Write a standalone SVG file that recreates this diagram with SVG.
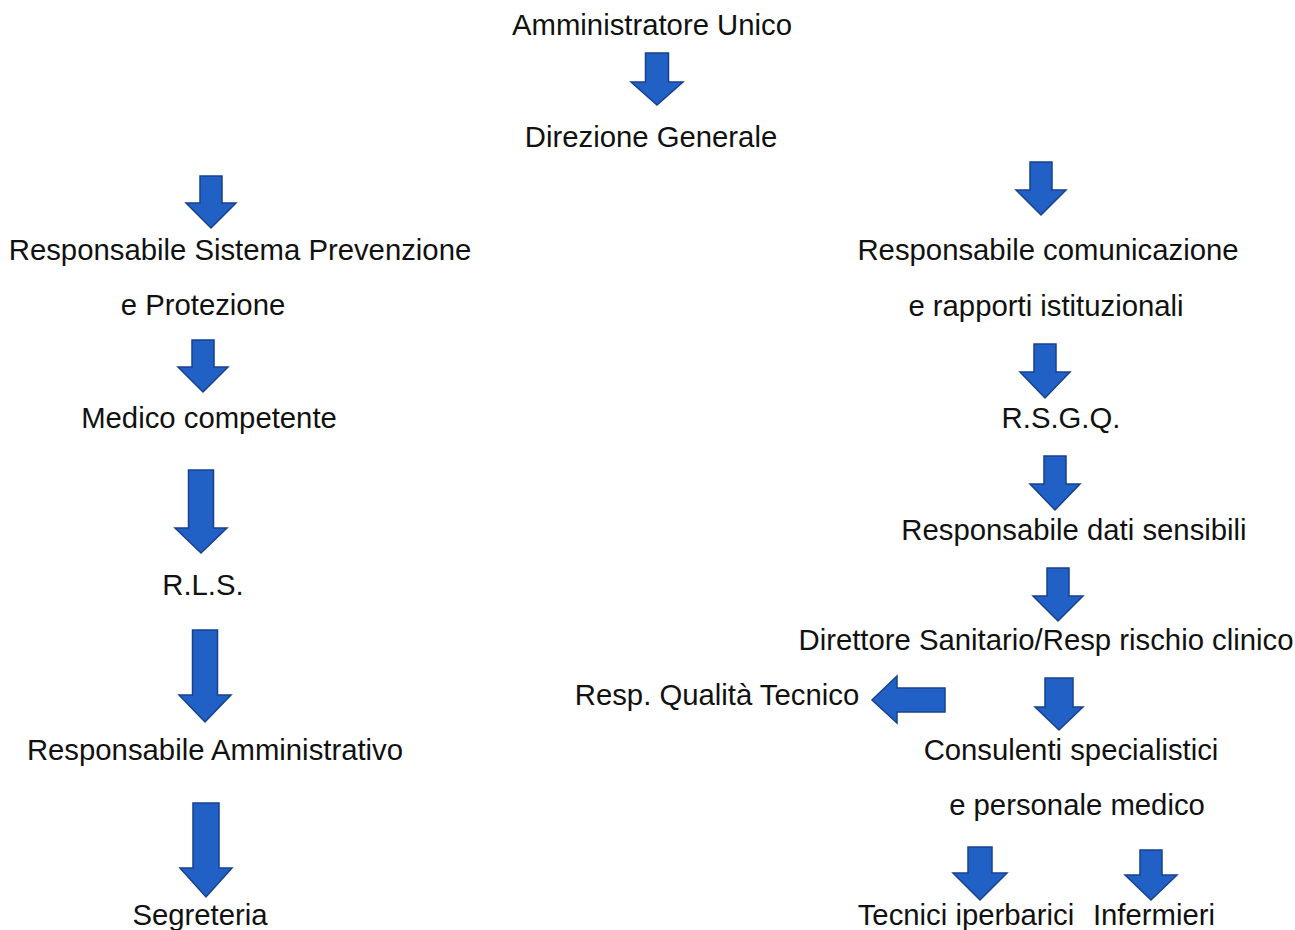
<svg xmlns="http://www.w3.org/2000/svg" width="1295" height="930" viewBox="0 0 1295 930">
<style>
.t{font-family:"Liberation Sans",Arial,sans-serif;font-size:29.3px;fill:#111;text-anchor:middle}
.a{fill:#2160c4;stroke:#17408f;stroke-width:1.5;stroke-linejoin:miter}
</style>
<rect width="1295" height="930" fill="#fff"/>
<g id="connectors">
<polygon class="a" points="645.5,53 668.5,53 668.5,82 683,82 657,105 631,82 645.5,82"/>
<polygon class="a" points="200,176 222,176 222,203 236,203 211,228 186,203 200,203"/>
<polygon class="a" points="1030,162 1052,162 1052,190 1066,190 1041,215 1016,190 1030,190"/>
<polygon class="a" points="192,340 214,340 214,367 228,367 203,392 178,367 192,367"/>
<polygon class="a" points="188.5,470 213.5,470 213.5,528 227,528 201,553 175,528 188.5,528"/>
<polygon class="a" points="192.5,630 217.5,630 217.5,695 231,695 205,722 179,695 192.5,695"/>
<polygon class="a" points="193,803 219,803 219,868 232,868 206,897 180,868 193,868"/>
<polygon class="a" points="1034,344 1056,344 1056,372 1070,372 1045,398 1020,372 1034,372"/>
<polygon class="a" points="1044,456 1066,456 1066,484 1080,484 1055,510 1030,484 1044,484"/>
<polygon class="a" points="1047,568 1069,568 1069,596 1083,596 1058,621 1033,596 1047,596"/>
<polygon class="a" points="945,688 945,712 897,712 897,723 872,700 897,676 897,688"/>
<polygon class="a" points="1045,678 1073,678 1073,707 1083,707 1059,730 1035,707 1045,707"/>
<polygon class="a" points="968,847 992,847 992,873 1007,873 980,900 953,873 968,873"/>
<polygon class="a" points="1140,850 1162,850 1162,875 1177,875 1151,900 1125,875 1140,875"/>
</g>
<g id="n-amministratore"><text class="t" x="652" y="35">Amministratore Unico</text></g>
<g id="n-direzione"><text class="t" x="651" y="147">Direzione Generale</text></g>
<g id="n-rspp"><text class="t" x="240" y="260">Responsabile Sistema Prevenzione</text><text class="t" x="203" y="315">e Protezione</text></g>
<g id="n-medico"><text class="t" x="209" y="428">Medico competente</text></g>
<g id="n-rls"><text class="t" x="203" y="595">R.L.S.</text></g>
<g id="n-ramm"><text class="t" x="215" y="760">Responsabile Amministrativo</text></g>
<g id="n-segreteria"><text class="t" x="200" y="925">Segreteria</text></g>
<g id="n-rcom"><text class="t" x="1048" y="260">Responsabile comunicazione</text><text class="t" x="1046" y="316">e rapporti istituzionali</text></g>
<g id="n-rsgq"><text class="t" x="1061" y="428">R.S.G.Q.</text></g>
<g id="n-rdati"><text class="t" x="1074" y="540">Responsabile dati sensibili</text></g>
<g id="n-direttore"><text class="t" x="1046" y="650">Direttore Sanitario/Resp rischio clinico</text></g>
<g id="n-rqt"><text class="t" x="717" y="705">Resp. Qualità Tecnico</text></g>
<g id="n-consulenti"><text class="t" x="1071" y="760">Consulenti specialistici</text><text class="t" x="1077" y="815">e personale medico</text></g>
<g id="n-tecnici"><text class="t" x="966" y="925">Tecnici iperbarici</text></g>
<g id="n-infermieri"><text class="t" x="1154" y="925">Infermieri</text></g>
</svg>
